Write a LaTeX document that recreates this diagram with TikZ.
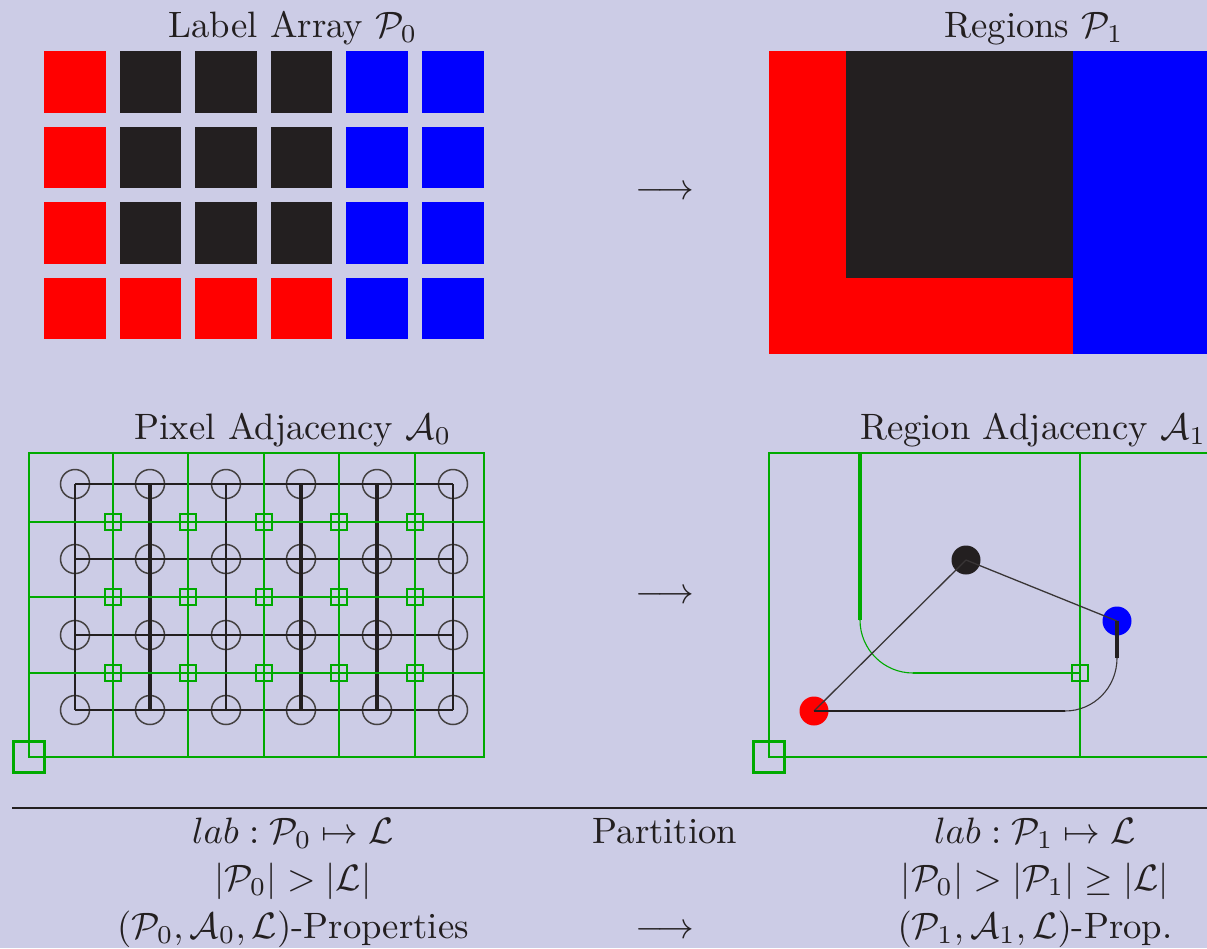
\documentclass[tikz,border=0pt]{standalone}
\usepackage{graphicx}
\definecolor{bg}{RGB}{204,204,230}
\definecolor{kk}{RGB}{35,31,32}
\definecolor{gg}{RGB}{0,170,0}
\newcommand{\bigtxt}[1]{\scalebox{3.67}{#1}}
\tikzset{
  txt/.style={inner sep=0pt, anchor=base, text=kk},
  pix/.style={circle, draw=kk!85, line width=1.5pt, minimum size=29pt, inner sep=0pt},
  gsq/.style={rectangle, draw=gg, line width=2pt, minimum size=16pt, inner sep=0pt},
  bigsq/.style={rectangle, draw=gg, line width=2.3pt, minimum size=31pt, inner sep=0pt},
  reg/.style={circle, minimum size=29pt, inner sep=0pt},
  gthin/.style={draw=gg, line width=1.8pt},
  gthick/.style={draw=gg, line width=2.5pt},
}
\begin{document}
\begin{tikzpicture}[x=1pt,y=-1pt]
\fill[bg] (0,0) rectangle (1207,948);
\useasboundingbox (0,0) rectangle (1207,948);
\clip (0,0) rectangle (1207,948);

% ---- Label array P0
\foreach \c [count=\i from 0] in {red,kk,kk,kk,blue,blue}{
  \foreach \j in {0,1,2}{
    \fill[\c] ({44+75.6*\i},{51+75.6*\j}) rectangle ++(61.5,61.5);
  }
}
\foreach \c [count=\i from 0] in {red,red,red,red,blue,blue}{
  \fill[\c] ({44+75.6*\i},{51+75.6*3}) rectangle ++(61.5,61.5);
}

% ---- Regions P1
\fill[red] (769,51) rectangle (846,354);
\fill[red] (769,278) rectangle (1073,354);
\fill[kk] (846,51) rectangle (1073,278);
\fill[blue] (1073,51) rectangle (1215,354);

% ---- labels
\node[txt] (t1) at (293,37) {\bigtxt{Label Array $\mathcal{P}_0$}};
\node[txt] (t2) at (1034,37) {\bigtxt{Regions $\mathcal{P}_1$}};
\node[txt] (t3) at (293,439) {\bigtxt{Pixel Adjacency $\mathcal{A}_0$}};
\node[txt] (t4) at (1033,439) {\bigtxt{Region Adjacency $\mathcal{A}_1$}};
\node[txt, anchor=center] (a1) at (665,193) {\bigtxt{$\longrightarrow$}};
\node[txt, anchor=center] (a2) at (665,597) {\bigtxt{$\longrightarrow$}};

% ---- Pixel adjacency
\foreach \i/\x in {1/75,2/150,3/226,4/301,5/377,6/453}{
  \foreach \j/\y in {1/484,2/559,3/635,4/710}{
    \node[pix] (p\i\j) at (\x,\y) {};
  }
}
\foreach \j in {1,...,4}{
  \draw[kk, line width=2pt] (p1\j.center) -- (p6\j.center);
}
\foreach \i/\w in {1/2,2/3.2,3/2,4/3.2,5/3.2,6/2}{
  \draw[kk, line width=\w pt] (p\i1.center) -- (p\i4.center);
}
\draw[gthick] (29,453) rectangle (484,757);
\foreach \x in {113,188,264,339,415}{
  \draw[gthin] (\x,453) -- (\x,757);
}
\draw[gthin] (29,522) -- (484,522);
\draw[gthick] (29,597) -- (484,597);
\draw[gthick] (29,673) -- (484,673);
\foreach \i/\x in {1/113,2/188,3/264,4/339,5/415}{
  \foreach \j/\y in {1/522,2/597,3/673}{
    \node[gsq] (s\i\j) at (\x,\y) {};
  }
}
\node[bigsq] (c0) at (29,757) {};

% ---- Region adjacency
\draw[gthick] (1215,453) -- (769,453) -- (769,757) -- (1215,757);
\draw[gthin] (1080,453) -- (1080,757);
\draw[gg, line width=3.2pt] (860,453) -- (860,620);
\draw[gg, line width=1.1pt] (860,620) .. controls (860,649.3) and (883.7,673) .. (913,673);
\node[gsq] (rs) at (1080,673) {};
\draw[gg, line width=2.8pt] (913,673) -- (rs.center);
\node[bigsq] (c1) at (769,757) {};

\node[reg, fill=kk] (nk) at (966,560) {};
\node[reg, fill=blue] (nb) at (1117,621) {};
\node[reg, fill=red] (nr) at (814,711) {};
\coordinate (q1) at (1065,711);
\coordinate (q2) at (1117,658);
\draw[kk!90, line width=1.3pt] (nr.center) -- (nk.center);
\draw[kk!90, line width=1.3pt] (nk.center) -- (nb.center);
\draw[kk, line width=2.3pt] (nr.center) -- (q1);
\draw[kk!90, line width=1.1pt] (q1) .. controls (1093.7,711) and (1117,687.7) .. (q2);
\draw[kk, line width=3.3pt] (q2) -- (nb.center);

% ---- bottom table
\draw[kk, line width=2.2pt] (12,808) -- (1215,808);
\node[txt] (b11) at (293,843) {\bigtxt{$lab:\mathcal{P}_0\mapsto\mathcal{L}$}};
\node[txt] (b12) at (665,843) {\bigtxt{Partition}};
\node[txt] (b13) at (1035,843) {\bigtxt{$lab:\mathcal{P}_1\mapsto\mathcal{L}$}};
\node[txt] (b21) at (293,890) {\bigtxt{$|\mathcal{P}_0|>|\mathcal{L}|$}};
\node[txt] (b23) at (1035,890) {\bigtxt{$|\mathcal{P}_0|>|\mathcal{P}_1|\geq|\mathcal{L}|$}};
\node[txt] (b31) at (293,938) {\bigtxt{$(\mathcal{P}_0,\mathcal{A}_0,\mathcal{L})$-Properties}};
\node[txt] (b32) at (665,938) {\bigtxt{$\longrightarrow$}};
\node[txt] (b33) at (1035,938) {\bigtxt{$(\mathcal{P}_1,\mathcal{A}_1,\mathcal{L})$-Prop.}};
\end{tikzpicture}
\end{document}
